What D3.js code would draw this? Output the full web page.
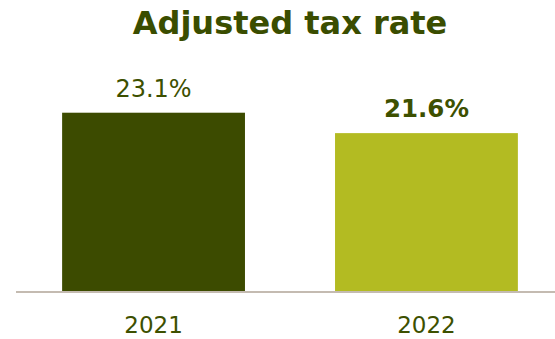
<!DOCTYPE html>
<html>
<head>
<meta charset="utf-8">
<script src="https://cdn.jsdelivr.net/npm/d3@7"></script>
<style>
  html, body { margin: 0; padding: 0; background: #ffffff; }
  svg { display: block; }
</style>
</head>
<body>
<svg id="chart" width="555" height="339"></svg>
<script>
// Data
const years = ["2021", "2022"];
const rates = [23.1, 21.6];
const barColors = ["#3c4b00", "#b3bb22"];
const labelWeights = ["normal", "bold"];
const title = "Adjusted tax rate";

const width = 555, height = 339;
const baseY = 291;
const font = "'DejaVu Sans', Verdana, sans-serif";
const textColor = "#3d5000";

const svg = d3.select("#chart");

const x = d3.scaleBand()
  .domain(years)
  .range([16, 564])
  .paddingInner(0.33)
  .paddingOuter(0.169);

const y = d3.scaleLinear()
  .domain([10, 25])
  .range([baseY, baseY - 15 * 13.61]);

// Title
svg.append("text")
  .attr("x", 290)
  .attr("y", 34)
  .attr("text-anchor", "middle")
  .attr("font-family", font)
  .attr("font-weight", "bold")
  .attr("font-size", 32)
  .attr("fill", "#3a4d00")
  .text(title);

const data = years.map((yr, i) => ({ yr, v: rates[i], c: barColors[i], w: labelWeights[i] }));

// Bars
svg.selectAll("rect.bar")
  .data(data)
  .join("rect")
  .attr("class", "bar")
  .attr("x", d => x(d.yr))
  .attr("width", x.bandwidth())
  .attr("y", d => y(d.v))
  .attr("height", d => baseY - y(d.v))
  .attr("fill", d => d.c);

// Value labels
svg.selectAll("text.val")
  .data(data)
  .join("text")
  .attr("class", "val")
  .attr("x", d => x(d.yr) + x.bandwidth() / 2)
  .attr("y", d => y(d.v) - 16)
  .attr("text-anchor", "middle")
  .attr("font-family", font)
  .attr("font-size", d => d.w === "bold" ? 24.5 : 24)
  .attr("font-weight", d => d.w)
  .attr("fill", textColor)
  .text(d => d.v.toFixed(1) + "%");

// Category axis
const axis = svg.append("g")
  .attr("transform", `translate(0,${baseY + 1})`)
  .call(d3.axisBottom(x).tickSize(0).tickPadding(0));

axis.select(".domain")
  .attr("d", `M16,0H${width}`)
  .attr("stroke", "#c4bbb1")
  .attr("stroke-width", 2);

axis.selectAll(".tick text")
  .attr("y", 41)
  .attr("dy", 0)
  .attr("font-family", font)
  .attr("font-size", 23)
  .attr("fill", textColor);
</script>
</body>
</html>
